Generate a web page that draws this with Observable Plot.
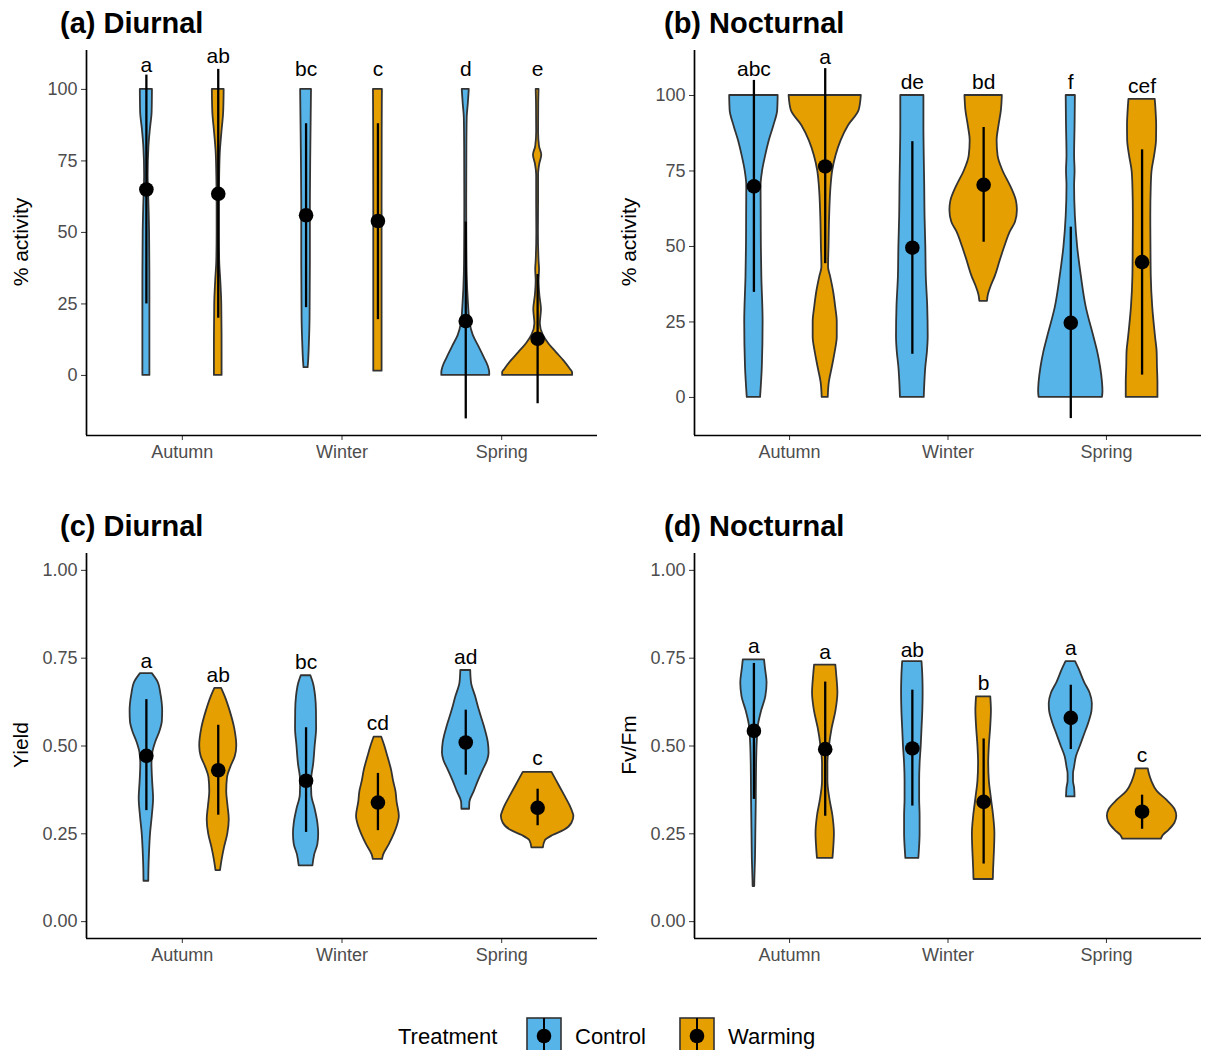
<!DOCTYPE html>
<html>
<head>
<meta charset="utf-8">
<script src="https://cdn.jsdelivr.net/npm/d3@7"></script>
<script src="https://cdn.jsdelivr.net/npm/@observablehq/plot@0.6"></script>
<style>
  body { margin: 0; background: #fff; }
  #root { position: relative; width: 1207px; height: 1050px; overflow: hidden; font-family: "Liberation Sans", Arial, sans-serif; }
  .panel { position: absolute; }
  .panel svg { overflow: visible; font-family: "Liberation Sans", Arial, sans-serif; }
  #overlay { position: absolute; left: 0; top: 0; pointer-events: none; }
</style>
</head>
<body>
<div id="root"></div>
<script>
// ---------------- DATA ----------------
const seasons = ["Autumn", "Winter", "Spring"];
const treatments = ["Control", "Warming"];
const treatmentColors = ["#56B4E9", "#E69F00"];
// group order: Autumn-Control, Autumn-Warming, Winter-Control, Winter-Warming, Spring-Control, Spring-Warming

// (a) Diurnal % activity
const aMean = [65, 63.5, 56, 54, 19, 12.8];
const aLow = [25, 20, 23.7, 19.5, -15.2, -9.9];
const aHigh = [105, 107, 88, 88, 53.6, 35.3];
const aLetters = ["a", "ab", "bc", "c", "d", "e"];
const aLetterY = [108.6, 111.5, 107, 107, 107, 107];
const aViolins = [
  [[100,0.038],[92,0.036],[86,0.025],[80,0.016],[70,0.011],[60,0.016],[50,0.020],[30,0.022],[10,0.022],[0,0.022]],
  [[100,0.037],[92,0.034],[85,0.023],[78,0.013],[70,0.009],[60,0.007],[50,0.007],[40,0.009],[33,0.016],[25,0.022],[10,0.024],[0,0.024]],
  [[100,0.034],[90,0.032],[80,0.030],[60,0.027],[40,0.027],[20,0.025],[10,0.020],[5,0.016],[2.7,0.013]],
  [[100,0.028],[90,0.027],[60,0.026],[30,0.026],[10,0.026],[1.5,0.026]],
  [[100,0.022],[95,0.016],[90,0.009],[80,0.007],[60,0.006],[45,0.007],[35,0.009],[25,0.017],[18,0.028],[14,0.047],[10,0.083],[6,0.118],[3,0.142],[1,0.150],[0,0.150]],
  [[100,0.009],[95,0.007],[85,0.006],[80,0.012],[77,0.026],[74,0.014],[70,0.006],[60,0.006],[50,0.005],[40,0.009],[37,0.012],[33,0.009],[28,0.014],[23,0.024],[18,0.017],[14,0.036],[11,0.071],[8,0.118],[5,0.166],[2,0.207],[1,0.219],[0,0.219]]
];

// (b) Nocturnal % activity
const bMean = [69.9, 76.5, 49.6, 70.4, 24.7, 44.8];
const bLow = [34.8, 44.3, 14.3, 51.4, -7, 7.4];
const bHigh = [105, 108.9, 84.7, 89.4, 56.4, 82];
const bLetters = ["abc", "a", "de", "bd", "f", "cef"];
const bLetterY = [108.7, 112.8, 104.3, 104.3, 104.3, 103.2];
const bViolins = [
  [[100,0.153],[95,0.150],[90,0.126],[85,0.097],[80,0.074],[75,0.055],[70,0.045],[60,0.046],[50,0.047],[40,0.050],[25,0.058],[10,0.053],[0,0.042]],
  [[100,0.228],[95,0.214],[90,0.147],[85,0.100],[80,0.068],[75,0.047],[70,0.037],[60,0.028],[50,0.024],[43,0.021],[40,0.034],[35,0.053],[30,0.066],[25,0.076],[20,0.076],[15,0.063],[10,0.045],[5,0.026],[0,0.019]],
  [[100,0.073],[90,0.073],[80,0.075],[70,0.078],[60,0.080],[50,0.085],[40,0.088],[30,0.097],[20,0.100],[15,0.095],[10,0.085],[5,0.079],[0,0.075]],
  [[100,0.118],[95,0.112],[90,0.097],[85,0.085],[80,0.091],[75,0.122],[70,0.170],[65,0.207],[62,0.213],[58,0.201],[55,0.170],[50,0.134],[45,0.103],[40,0.073],[37,0.049],[34,0.030],[31.8,0.024]],
  [[100,0.029],[90,0.027],[80,0.024],[75,0.027],[70,0.024],[60,0.029],[50,0.043],[40,0.067],[30,0.097],[20,0.146],[15,0.170],[10,0.188],[5,0.2],[2,0.203],[0,0.2]],
  [[98.7,0.083],[95,0.088],[90,0.092],[85,0.091],[80,0.079],[75,0.063],[70,0.058],[60,0.055],[50,0.056],[40,0.058],[30,0.067],[20,0.085],[15,0.095],[10,0.097],[5,0.1],[0,0.1]]
];

// (c) Diurnal Yield
const cMean = [0.472, 0.431, 0.401, 0.339, 0.510, 0.324];
const cLow = [0.316, 0.303, 0.254, 0.259, 0.417, 0.273];
const cHigh = [0.632, 0.559, 0.552, 0.422, 0.602, 0.377];
const cLetters = ["a", "ab", "bc", "cd", "ad", "c"];
const cLetterY = [0.742, 0.701, 0.737, 0.566, 0.754, 0.464];
const cViolins = [
  [[0.706,0.037],[0.68,0.075],[0.65,0.090],[0.60,0.102],[0.57,0.100],[0.54,0.084],[0.51,0.058],[0.48,0.040],[0.45,0.035],[0.40,0.039],[0.35,0.045],[0.30,0.037],[0.25,0.026],[0.20,0.020],[0.15,0.016],[0.115,0.015]],
  [[0.664,0.021],[0.64,0.044],[0.60,0.074],[0.55,0.103],[0.50,0.116],[0.47,0.107],[0.44,0.079],[0.41,0.058],[0.37,0.053],[0.33,0.061],[0.29,0.069],[0.25,0.060],[0.21,0.039],[0.18,0.026],[0.145,0.014]],
  [[0.70,0.03],[0.68,0.045],[0.64,0.060],[0.60,0.065],[0.55,0.066],[0.50,0.057],[0.45,0.048],[0.40,0.034],[0.36,0.036],[0.32,0.057],[0.28,0.074],[0.25,0.079],[0.22,0.074],[0.19,0.054],[0.159,0.043]],
  [[0.525,0.024],[0.50,0.043],[0.47,0.062],[0.43,0.086],[0.40,0.098],[0.37,0.113],[0.34,0.12],[0.30,0.134],[0.27,0.12],[0.25,0.103],[0.22,0.072],[0.19,0.036],[0.177,0.029]],
  [[0.715,0.031],[0.68,0.036],[0.64,0.062],[0.60,0.086],[0.55,0.12],[0.51,0.141],[0.48,0.146],[0.46,0.138],[0.43,0.108],[0.40,0.079],[0.37,0.053],[0.34,0.026],[0.32,0.024]],
  [[0.425,0.09],[0.40,0.12],[0.36,0.168],[0.33,0.203],[0.31,0.221],[0.30,0.227],[0.28,0.215],[0.26,0.168],[0.245,0.096],[0.23,0.048],[0.21,0.036]]
];

// (d) Nocturnal Fv/Fm
const dMean = [0.543, 0.491, 0.493, 0.341, 0.580, 0.313];
const dLow = [0.348, 0.300, 0.329, 0.164, 0.490, 0.263];
const dHigh = [0.735, 0.682, 0.659, 0.520, 0.673, 0.360];
const dLetters = ["a", "a", "ab", "b", "a", "c"];
const dLetterY = [0.784, 0.766, 0.773, 0.680, 0.779, 0.474];
const dViolins = [
  [[0.745,0.067],[0.72,0.073],[0.68,0.083],[0.64,0.075],[0.60,0.049],[0.56,0.029],[0.52,0.022],[0.45,0.017],[0.35,0.015],[0.25,0.012],[0.18,0.010],[0.12,0.006],[0.10,0.005]],
  [[0.73,0.067],[0.70,0.073],[0.65,0.080],[0.60,0.068],[0.55,0.044],[0.50,0.027],[0.45,0.017],[0.40,0.017],[0.35,0.029],[0.30,0.049],[0.25,0.058],[0.21,0.054],[0.18,0.049]],
  [[0.74,0.061],[0.70,0.066],[0.65,0.068],[0.60,0.066],[0.55,0.061],[0.50,0.056],[0.45,0.049],[0.40,0.046],[0.35,0.046],[0.30,0.049],[0.25,0.049],[0.20,0.044],[0.18,0.041]],
  [[0.64,0.045],[0.60,0.049],[0.55,0.044],[0.50,0.036],[0.45,0.032],[0.40,0.036],[0.35,0.049],[0.30,0.063],[0.25,0.071],[0.20,0.068],[0.15,0.063],[0.12,0.061]],
  [[0.74,0.03],[0.72,0.051],[0.68,0.088],[0.65,0.122],[0.62,0.136],[0.60,0.134],[0.57,0.117],[0.53,0.085],[0.50,0.061],[0.47,0.036],[0.44,0.024],[0.42,0.017],[0.40,0.017],[0.38,0.024],[0.355,0.027]],
  [[0.435,0.039],[0.42,0.046],[0.40,0.061],[0.37,0.097],[0.345,0.158],[0.32,0.207],[0.30,0.219],[0.28,0.207],[0.26,0.170],[0.245,0.134],[0.235,0.122]]
];

const activityTicks = [0, 25, 50, 75, 100];
const ratioTicks = [0, 0.25, 0.5, 0.75, 1];

// ---------------- BUILD ----------------
const dodge = 0.225;
function groupInfo(k) {
  const s = Math.floor(k / 2), t = k % 2;
  return { season: seasons[s], treat: treatments[t], pos: s + 1 + (t === 0 ? -dodge : dodge), g: k };
}

function makePanel(cfg) {
  const groups = d3.range(6).map(k => ({
    ...groupInfo(k),
    mean: cfg.mean[k], low: cfg.low[k], high: cfg.high[k],
    letter: cfg.letters[k], letterY: cfg.letterY[k]
  }));
  const vrows = [];
  cfg.violins.forEach((prof, k) => {
    const gi = groupInfo(k);
    prof.forEach(([v, hw]) => vrows.push({ ...gi, v, hw }));
  });
  const xd = [0.4, 3.6];
  const yd = cfg.ydomain;
  return Plot.plot({
    width: cfg.width, height: 440,
    marginLeft: cfg.marginLeft, marginRight: cfg.marginRight, marginTop: 10, marginBottom: 45,
    style: { fontFamily: "Liberation Sans, Arial, sans-serif", background: "transparent" },
    x: { domain: xd, label: null },
    y: { domain: yd, label: null },
    color: { domain: treatments, range: treatmentColors },
    marks: [
      Plot.areaX(vrows, {
        y: "v", x1: d => d.pos - d.hw, x2: d => d.pos + d.hw, z: "g",
        fill: "treat", stroke: "#333333", strokeWidth: 1.8, strokeLinejoin: "round", curve: "monotone-y"
      }),
      Plot.ruleX(groups, { x: "pos", y1: "low", y2: "high", stroke: "black", strokeWidth: 2.3 }),
      Plot.dot(groups, { x: "pos", y: "mean", r: 7.3, fill: "black", stroke: null }),
      Plot.text(groups, { x: "pos", y: "letterY", text: "letter", fontSize: 21, fill: "black" }),
      Plot.axisY({ ticks: cfg.ticks, tickFormat: cfg.tickFormat, tickSize: 5, tickPadding: 4, fontSize: 18, color: "#4d4d4d", stroke: "#333", label: null }),
      Plot.axisX({ ticks: [1, 2, 3], tickFormat: d => seasons[d - 1], tickSize: 5, tickPadding: 5, fontSize: 18, color: "#4d4d4d", stroke: "#333", label: null }),
      Plot.ruleX([xd[0]], { y1: yd[0], y2: yd[1], stroke: "black", strokeWidth: 1.7 }),
      Plot.ruleY([yd[0]], { x1: xd[0], x2: xd[1], stroke: "black", strokeWidth: 1.7 })
    ]
  });
}

const root = document.getElementById("root");
const panels = [
  { left: 0, top: 40, width: 603, marginLeft: 86, marginRight: 6, mean: aMean, low: aLow, high: aHigh, letters: aLetters, letterY: aLetterY, violins: aViolins, ydomain: [-21, 113.6], ticks: activityTicks, tickFormat: d => String(d) },
  { left: 604, top: 40, width: 603, marginLeft: 90, marginRight: 6, mean: bMean, low: bLow, high: bHigh, letters: bLetters, letterY: bLetterY, violins: bViolins, ydomain: [-12.6, 114.9], ticks: activityTicks, tickFormat: d => String(d) },
  { left: 0, top: 543, width: 603, marginLeft: 86, marginRight: 6, mean: cMean, low: cLow, high: cHigh, letters: cLetters, letterY: cLetterY, violins: cViolins, ydomain: [-0.048, 1.048], ticks: ratioTicks, tickFormat: d3.format(".2f") },
  { left: 604, top: 543, width: 603, marginLeft: 90, marginRight: 6, mean: dMean, low: dLow, high: dHigh, letters: dLetters, letterY: dLetterY, violins: dViolins, ydomain: [-0.048, 1.048], ticks: ratioTicks, tickFormat: d3.format(".2f") }
];
panels.forEach(cfg => {
  const div = document.createElement("div");
  div.className = "panel";
  div.style.left = cfg.left + "px";
  div.style.top = cfg.top + "px";
  div.appendChild(makePanel(cfg));
  root.appendChild(div);
});

// overlay: titles, axis titles, legend
const titles = ["(a) Diurnal", "(b) Nocturnal", "(c) Diurnal", "(d) Nocturnal"];
const yTitles = ["% activity", "% activity", "Yield", "Fv/Fm"];
const svg = d3.select(root).append("svg").attr("id", "overlay")
  .attr("width", 1207).attr("height", 1050)
  .style("font-family", "Liberation Sans, Arial, sans-serif");
const titlePos = [[60, 33], [664, 33], [60, 536], [664, 536]];
titles.forEach((t, i) => {
  svg.append("text").attr("x", titlePos[i][0]).attr("y", titlePos[i][1])
    .attr("font-size", 29).attr("font-weight", "bold").attr("fill", "black").text(t);
});
const yTitlePos = [[28, 242], [636, 242], [28, 745], [636, 745]];
yTitles.forEach((t, i) => {
  svg.append("text").attr("transform", `translate(${yTitlePos[i][0]},${yTitlePos[i][1]}) rotate(-90)`)
    .attr("text-anchor", "middle").attr("font-size", 21).attr("fill", "black").text(t);
});
// legend
svg.append("text").attr("x", 398).attr("y", 1044).attr("font-size", 22).attr("fill", "black").text("Treatment");
const legendX = [527, 680];
treatments.forEach((t, i) => {
  const g = svg.append("g").attr("transform", `translate(${legendX[i]},1018)`);
  g.append("rect").attr("x", 0).attr("y", 0).attr("width", 34).attr("height", 36)
    .attr("fill", treatmentColors[i]).attr("stroke", "#333").attr("stroke-width", 1.6);
  g.append("line").attr("x1", 17).attr("x2", 17).attr("y1", 0).attr("y2", 36).attr("stroke", "black").attr("stroke-width", 2);
  g.append("circle").attr("cx", 17).attr("cy", 18).attr("r", 7.3).attr("fill", "black");
  svg.append("text").attr("x", legendX[i] + 48).attr("y", 1044).attr("font-size", 22).attr("fill", "black").text(t);
});
</script>
</body>
</html>
